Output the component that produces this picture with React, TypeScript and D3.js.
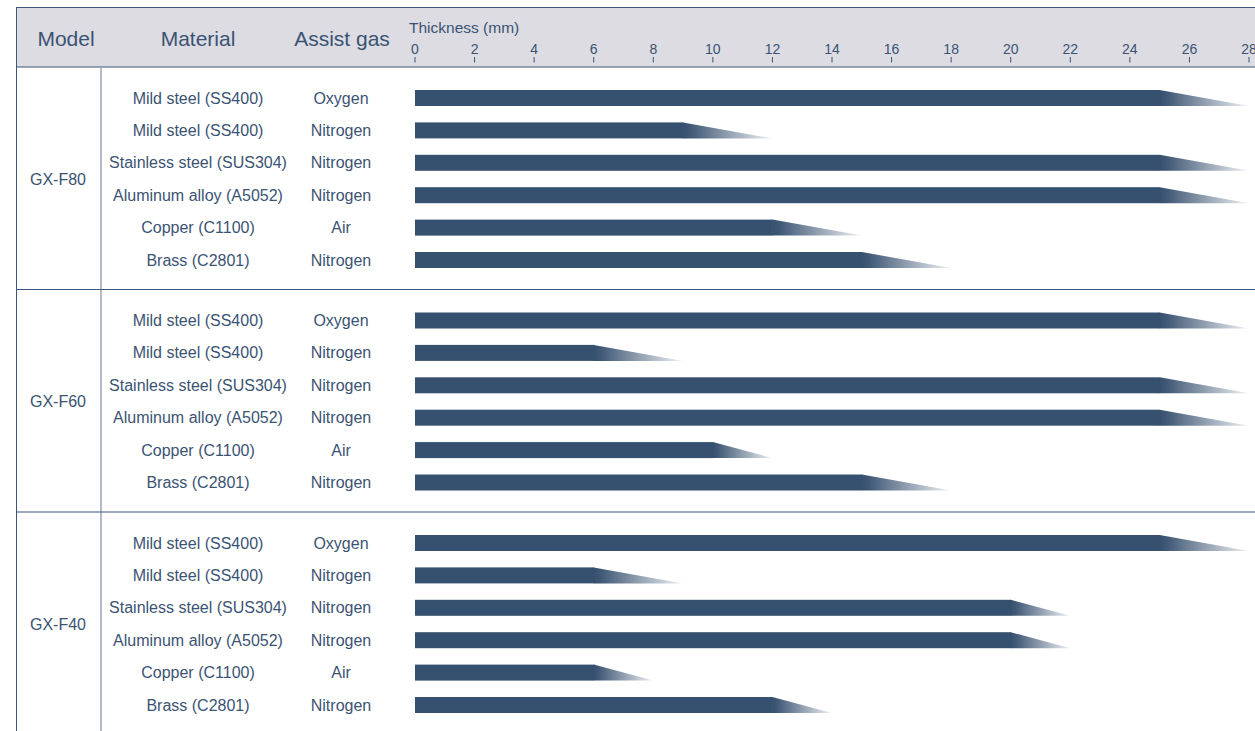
import React from "react";
import * as d3 from "d3";

const models = ["GX-F80", "GX-F60", "GX-F40"];
const materials = [
  "Mild steel (SS400)",
  "Mild steel (SS400)",
  "Stainless steel (SUS304)",
  "Aluminum alloy (A5052)",
  "Copper (C1100)",
  "Brass (C2801)",
];
const gases = ["Oxygen", "Nitrogen", "Nitrogen", "Nitrogen", "Air", "Nitrogen"];
const solidF80 = [25, 9, 25, 25, 12, 15];
const maxF80 = [28, 12, 28, 28, 15, 18];
const solidF60 = [25, 6, 25, 25, 10, 15];
const maxF60 = [28, 9, 28, 28, 12, 18];
const solidF40 = [25, 6, 20, 20, 6, 12];
const maxF40 = [28, 9, 22, 22, 8, 14];
const ticks = [0, 2, 4, 6, 8, 10, 12, 14, 16, 18, 20, 22, 24, 26, 28];

const solids = [solidF80, solidF60, solidF40];
const maxes = [maxF80, maxF60, maxF40];

const W = 1255;
const H = 731;
const BAR = "#36506f";
const TXT = "#3b5373";
const LINE = "#3d5779";
const FONT = "'Liberation Sans', Arial, Helvetica, sans-serif";

export default function App() {
  const x = d3.scaleLinear().domain([0, 28]).range([415, 1249]);
  const groupY = d3
    .scaleBand<number>()
    .domain([0, 1, 2])
    .range([67, 67 + 3 * 222.5]);
  const rowY = d3
    .scalePoint<number>()
    .domain([0, 1, 2, 3, 4, 5])
    .range([31, 193]);
  const barH = 16;

  return (
    <svg
      width={W}
      height={H}
      style={{ position: "absolute", left: 0, top: 0, background: "#fff" }}
      fontFamily={FONT}
    >
      <defs>
        <linearGradient id="fade" x1="0" x2="1" y1="0" y2="0">
          <stop offset="0" stopColor={BAR} stopOpacity={1} />
          <stop offset="0.08" stopColor={BAR} stopOpacity={0.95} />
          <stop offset="1" stopColor={BAR} stopOpacity={0.08} />
        </linearGradient>
      </defs>
      {/* header */}
      <rect x={16} y={7} width={W - 16} height={60} fill="#dcdce2" />
      <line x1={16} x2={W} y1={7.5} y2={7.5} stroke={LINE} strokeWidth={1} />
      <line x1={16} x2={W} y1={67} y2={67} stroke={LINE} strokeWidth={1.2} />
      <line x1={16.5} x2={16.5} y1={7} y2={H} stroke={LINE} strokeWidth={1} />
      <line x1={101} x2={101} y1={67} y2={H} stroke="#9aa5b8" strokeWidth={1.5} />
      <text x={66} y={46} fontSize={21} fill={TXT} textAnchor="middle">Model</text>
      <text x={198} y={46} fontSize={21} fill={TXT} textAnchor="middle">Material</text>
      <text x={342} y={46} fontSize={21} fill={TXT} textAnchor="middle">Assist gas</text>
      <text x={409} y={33} fontSize={15.5} fill={TXT}>
        Thickness (mm)
      </text>
      {ticks.map((t) => (
        <g key={t}>
          <text x={x(t)} y={54} fontSize={14} fill={TXT} textAnchor="middle">
            {t}
          </text>
          <line x1={x(t)} x2={x(t)} y1={57} y2={62.5} stroke={TXT} strokeWidth={1} />
        </g>
      ))}
      {models.map((m, gi) => {
        const g0 = groupY(gi)!;
        return (
          <g key={m}>
            {gi > 0 && (
              <line x1={16} x2={W} y1={g0} y2={g0} stroke={LINE} strokeWidth={1.2} />
            )}
            <text x={58} y={g0 + 112 + 5.5} fontSize={16} fill={TXT} textAnchor="middle">
              {m}
            </text>
            {materials.map((mat, i) => {
              const cy = g0 + rowY(i)!;
              const xs = x(solids[gi][i]);
              const xe = x(maxes[gi][i]);
              const top = cy - barH / 2;
              const bot = cy + barH / 2;
              return (
                <g key={i}>
                  <text x={198} y={cy + 5.5} fontSize={16} fill={TXT} textAnchor="middle">
                    {mat}
                  </text>
                  <text x={341} y={cy + 5.5} fontSize={16} fill={TXT} textAnchor="middle">
                    {gases[i]}
                  </text>
                  <rect x={x(0)} y={top} width={xs - x(0) + 0.5} height={barH} fill={BAR} />
                  <path
                    d={`M${xs},${top} L${xe},${bot} L${xs},${bot} Z`}
                    fill={`url(#fade)`}
                  />
                </g>
              );
            })}
          </g>
        );
      })}
    </svg>
  );
}
